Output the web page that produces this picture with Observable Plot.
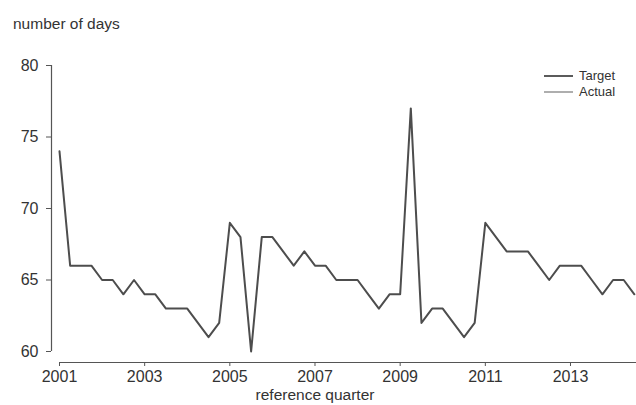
<!DOCTYPE html>
<html>
<head>
<meta charset="utf-8">
<script src="https://cdn.jsdelivr.net/npm/d3@7"></script>
<script src="https://cdn.jsdelivr.net/npm/@observablehq/plot@0.6"></script>
<style>
  html, body { margin: 0; padding: 0; background: #fff; }
  #wrap { position: relative; width: 636px; height: 405px; overflow: hidden; font-family: "Liberation Sans", Arial, sans-serif; color: #333; }
  #title { position: absolute; left: 13px; top: 15px; font-size: 15.5px; }
  #xlabel { position: absolute; left: 0; width: 630px; text-align: center; top: 386px; font-size: 15.5px; line-height: 18px; }
  #legend { position: absolute; left: 544px; top: 68px; font-size: 13px; line-height: 16px; }
  #legend div { display: flex; align-items: center; }
  #legend svg { margin-right: 6px; }
</style>
</head>
<body>
<div id="wrap">
  <div id="chart"></div>
  <div id="title">number of days</div>
  <div id="xlabel">reference quarter</div>
  <div id="legend"></div>
</div>
<script>
// Quarterly values, starting 2001 Q1
const startYear = 2001;
const days = [74, 66, 66, 66, 65, 65, 64, 65,
              64, 64, 63, 63, 63, 62, 61, 62,
              69, 68, 60, 68, 68, 67, 66, 67,
              66, 66, 65, 65, 65, 64, 63, 64,
              64, 77, 62, 63, 63, 62, 61, 62,
              69, 68, 67, 67, 67, 66, 65, 66,
              66, 66, 65, 64, 65, 65, 64];
const xTicks = [2001, 2003, 2005, 2007, 2009, 2011, 2013];
const yTicks = [60, 65, 70, 75, 80];
const legendLabels = ["Target", "Actual"];
const legendColors = ["#333333", "#9a9a9a"];

const data = days.map((v, i) => ({t: startYear + i / 4, v}));
const xDomain = [2001, 2014.55];

const chart = Plot.plot({
  width: 636,
  height: 405,
  marginLeft: 59,
  marginRight: 0,
  marginTop: 65,
  marginBottom: 54,
  style: {fontFamily: "Liberation Sans, Arial, sans-serif", fontSize: "16px", color: "#333", background: "#fff"},
  x: {domain: xDomain},
  y: {domain: [60, 80]},
  marks: [
    Plot.ruleX([xDomain[0]], {y1: 60, y2: 80, dx: -8, stroke: "#555", strokeWidth: 1.2}),
    Plot.ruleY([60], {x1: xDomain[0], x2: xDomain[1], dy: 11, stroke: "#555", strokeWidth: 1.2}),
    Plot.axisY({ticks: yTicks, tickFormat: d => String(d), dx: -8, tickSize: 5, tickPadding: 8, stroke: "#555", fill: "#333", fontSize: 16, label: null}),
    Plot.axisX({ticks: xTicks, tickFormat: d => String(d), dy: 11, tickSize: 4, tickPadding: 4, stroke: "#555", fill: "#333", fontSize: 16, label: null}),
    Plot.line(data, {x: "t", y: "v", stroke: "#4d4d4d", strokeWidth: 2})
  ]
});
document.getElementById("chart").appendChild(chart);

const lg = document.getElementById("legend");
legendLabels.forEach((lab, i) => {
  const row = document.createElement("div");
  row.innerHTML = `<svg width="29" height="4"><line x1="0" x2="29" y1="2" y2="2" stroke="${legendColors[i]}" stroke-width="1.6"/></svg><span>${lab}</span>`;
  lg.appendChild(row);
});
</script>
</body>
</html>
